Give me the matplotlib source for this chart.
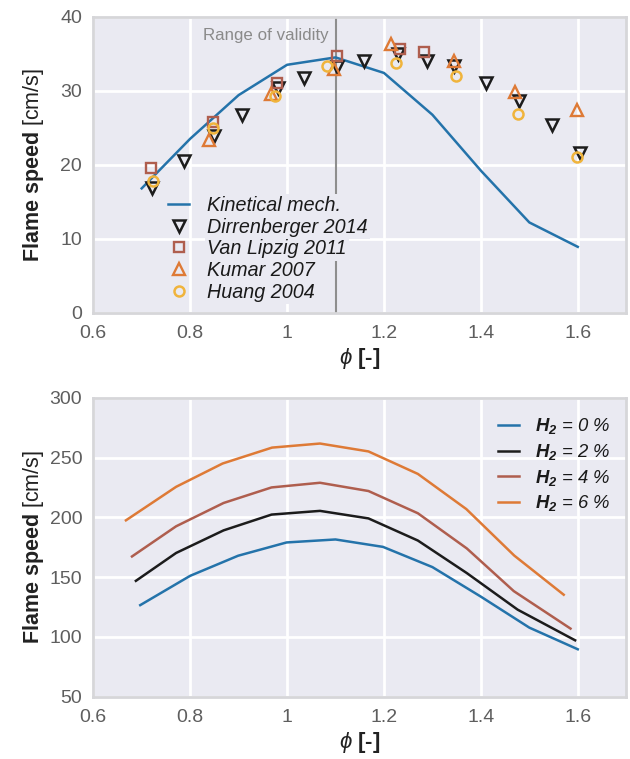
import matplotlib
matplotlib.use("Agg")
import matplotlib.pyplot as plt

plt.rcParams['font.family'] = ['Liberation Sans', 'DejaVu Sans']
plt.rcParams['mathtext.fontset'] = 'custom'
plt.rcParams['mathtext.rm'] = 'Liberation Sans'
plt.rcParams['mathtext.it'] = 'Liberation Sans:italic'
plt.rcParams['mathtext.bf'] = 'Liberation Sans:bold:italic'
plt.rcParams['mathtext.sf'] = 'Liberation Sans:bold'

# ---------------- data: top panel ----------------
phi_kin = [0.7, 0.8, 0.9, 1.0, 1.1, 1.2, 1.3, 1.4, 1.5, 1.6]
s_kin = [16.8, 23.5, 29.4, 33.5, 34.5, 32.4, 26.75, 19.2, 12.2, 8.9]

phi_dir = [0.722, 0.7875, 0.85, 0.907, 0.981, 1.035, 1.104, 1.158, 1.228, 1.288,
           1.345, 1.411, 1.479, 1.546, 1.605]
s_dir = [16.8, 20.45, 23.9, 26.7, 30.3, 31.7, 33.15, 34.0, 35.0, 33.96,
         33.3, 31.1, 28.55, 25.3, 21.6]

phi_vl = [0.72, 0.848, 0.979, 1.104, 1.233, 1.283]
s_vl = [19.5, 25.75, 31.1, 34.7, 35.6, 35.2]

phi_ku = [0.839, 0.966, 1.097, 1.215, 1.344, 1.471, 1.599]
s_ku = [23.4, 29.55, 32.9, 36.35, 33.96, 29.8, 27.4]

phi_hu = [0.724, 0.848, 0.976, 1.083, 1.224, 1.348, 1.476, 1.599]
s_hu = [17.75, 24.9, 29.25, 33.4, 33.8, 32.0, 26.9, 21.1]

validity_phi = 1.1

# ---------------- data: bottom panel ----------------
phi_h0 = [0.697, 0.8, 0.899, 0.999, 1.1, 1.198, 1.3, 1.4, 1.5, 1.6]
s_h0 = [126.6, 151.1, 167.9, 179.0, 181.5, 175.3, 158.4, 133.7, 107.8, 89.7]

phi_h2 = [0.688, 0.771, 0.869, 0.968, 1.068, 1.168, 1.27, 1.371, 1.476, 1.5945]
s_h2 = [146.9, 170.2, 189.1, 202.3, 205.4, 199.1, 180.6, 153.4, 122.8, 97.2]

phi_h4 = [0.68, 0.771, 0.869, 0.968, 1.068, 1.168, 1.27, 1.371, 1.468, 1.585]
s_h4 = [167.3, 192.5, 212.0, 225.0, 228.9, 222.0, 203.4, 174.0, 138.3, 107.0]

phi_h6 = [0.6675, 0.771, 0.867, 0.969, 1.068, 1.168, 1.27, 1.37, 1.469, 1.571]
s_h6 = [197.5, 225.5, 245.0, 258.3, 261.7, 255.1, 236.3, 206.9, 168.0, 135.3]

h2_labels = [r'$\mathbf{H_2}$ = 0 %', r'$\mathbf{H_2}$ = 2 %',
             r'$\mathbf{H_2}$ = 4 %', r'$\mathbf{H_2}$ = 6 %']

xticks = [0.6, 0.8, 1.0, 1.2, 1.4, 1.6]
xticklabels = ['0.6', '0.8', '1', '1.2', '1.4', '1.6']

# ---------------- style ----------------
BG = '#EAEAF2'
BLUE = '#2473AA'
BLACK = '#1C1C1C'
BROWN = '#AF5E4E'
ORANGE = '#DE7A36'
YELLOW = '#F0B43C'
TICKC = '#5E5E5E'

fig = plt.figure(figsize=(6.3, 7.59), dpi=100)
ax1 = fig.add_axes([0.148, 0.588, 0.846, 0.390])
ax2 = fig.add_axes([0.148, 0.082, 0.846, 0.394])


def style(ax):
    ax.set_facecolor(BG)
    ax.grid(True, color='white', linewidth=2.0)
    ax.set_axisbelow(True)
    for sp in ax.spines.values():
        sp.set_color('#D6D6D9')
        sp.set_linewidth(2.0)
    ax.tick_params(length=0, labelsize=14, colors=TICKC)
    ax.tick_params(axis='x', pad=9)
    ax.tick_params(axis='y', pad=8)
    ax.set_xlim(0.6, 1.7)
    ax.set_xticks(xticks)
    ax.set_xticklabels(xticklabels)
    ax.set_xlabel(r'$\phi$ [-]', fontsize=16, fontweight='bold', color='#222222', labelpad=3)
    ax.set_ylabel(r'$\mathsf{Flame\ speed}$ [cm/s]', fontsize=15.5, color='#222222')
    ax.yaxis.set_label_coords(-0.089, 0.5)


style(ax1)
style(ax2)

# top panel
ax1.set_ylim(0, 40)
ax1.set_yticks([0, 10, 20, 30, 40])
ax1.axvline(validity_phi, color='#8E8E8E', linewidth=1.5, zorder=1.5)
ax1.text(validity_phi - 0.014, 37.4, 'Range of validity', ha='right', va='center',
         fontsize=12.2, color='#8A8A8A')

ax1.plot(phi_kin, s_kin, color=BLUE, linewidth=1.8, label='Kinetical mech.', zorder=2)
ax1.plot(phi_dir, s_dir, linestyle='none', marker='v', ms=8.6, mfc='none',
         mec=BLACK, mew=1.8, label='Dirrenberger 2014', zorder=3)
ax1.plot(phi_vl, s_vl, linestyle='none', marker='s', ms=6.7, mfc='none',
         mec=BROWN, mew=1.7, label='Van Lipzig 2011', zorder=3)
ax1.plot(phi_ku, s_ku, linestyle='none', marker='^', ms=8.6, mfc='none',
         mec=ORANGE, mew=1.7, label='Kumar 2007', zorder=3)
ax1.plot(phi_hu, s_hu, linestyle='none', marker='o', ms=7.2, mfc='none',
         mec=YELLOW, mew=1.8, label='Huang 2004', zorder=3)

leg1 = ax1.legend(loc='lower left', bbox_to_anchor=(0.125, 0.01), frameon=False,
                  prop={'style': 'italic', 'size': 14.2}, labelspacing=0.14,
                  handlelength=1.1, handletextpad=0.9, borderaxespad=0)
for t in leg1.get_texts():
    t.set_color('#1A1A1A')
    t.set_bbox(dict(facecolor=BG, edgecolor='none', pad=1.5))

# bottom panel
ax2.set_ylim(50, 300)
ax2.set_yticks([50, 100, 150, 200, 250, 300])
for ph, sv, c, lab in zip([phi_h0, phi_h2, phi_h4, phi_h6], [s_h0, s_h2, s_h4, s_h6],
                          [BLUE, BLACK, BROWN, ORANGE], h2_labels):
    ax2.plot(ph, sv, color=c, linewidth=1.8, label=lab)

leg2 = ax2.legend(loc='upper right', bbox_to_anchor=(0.985, 0.962), frameon=False,
                  prop={'style': 'italic', 'size': 13.3}, labelspacing=0.3,
                  handlelength=1.1, handletextpad=0.9, borderaxespad=0)
for t in leg2.get_texts():
    t.set_color('#1A1A1A')

fig.savefig('out.png', dpi=100, facecolor='white')
